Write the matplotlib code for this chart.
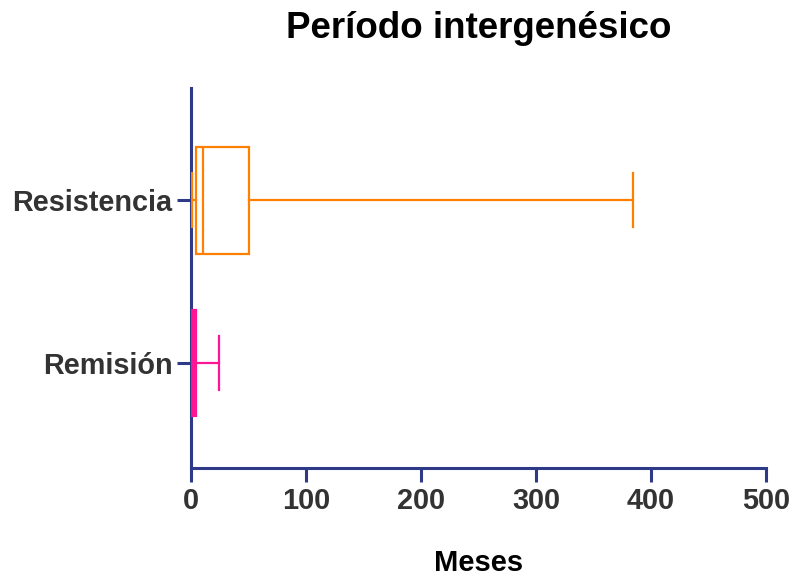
import matplotlib
matplotlib.use("Agg")
import matplotlib.pyplot as plt

# data (months)
groups = ["Remisión", "Resistencia"]
whislo = [0, 1]
q1 = [1, 4]
med = [2, 10]
q3 = [4, 50]
whishi = [24, 384]
colors = ["#FF1493", "#FF8000"]
fills = ["#FF1493", "none"]

plt.rcParams["font.family"] = ["Liberation Sans", "DejaVu Sans"]
axis_col = "#2E3A87"

fig = plt.figure(figsize=(7.94, 5.82), dpi=100)
ax = fig.add_axes([0.2406, 0.1959, 0.7241, 0.6529])

for i in range(len(groups)):
    st = [{"whislo": whislo[i], "q1": q1[i], "med": med[i], "q3": q3[i],
           "whishi": whishi[i], "fliers": []}]
    c = colors[i]
    ax.bxp(st, positions=[i + 1], vert=False, widths=0.656, showfliers=False,
           patch_artist=True,
           boxprops=dict(edgecolor=c, facecolor=fills[i], linewidth=1.6),
           medianprops=dict(color=c, linewidth=1.6),
           whiskerprops=dict(color=c, linewidth=1.6),
           capprops=dict(color=c, linewidth=1.6),
           capwidths=0.33)

ax.set_xlim(0, 500)
ax.set_ylim(0.355, 2.69)
ax.set_xticks([0, 100, 200, 300, 400, 500])
ax.set_yticks([1, 2])
ax.set_yticklabels(groups)

for s in ["top", "right"]:
    ax.spines[s].set_visible(False)
for s in ["left", "bottom"]:
    ax.spines[s].set_color(axis_col)
    ax.spines[s].set_linewidth(2.2)
    ax.spines[s].set_zorder(0.5)

ax.tick_params(axis="both", colors=axis_col, width=2.2, length=10,
               labelcolor="#333333", labelsize=20.8)
for lab in ax.get_xticklabels() + ax.get_yticklabels():
    lab.set_fontweight("bold")

ax.set_xlabel("Meses", fontsize=21, fontweight="bold", labelpad=25)
ax.set_title("Período intergenésico", fontsize=26.5, fontweight="bold", pad=36)

fig.savefig("out.png", dpi=100)
